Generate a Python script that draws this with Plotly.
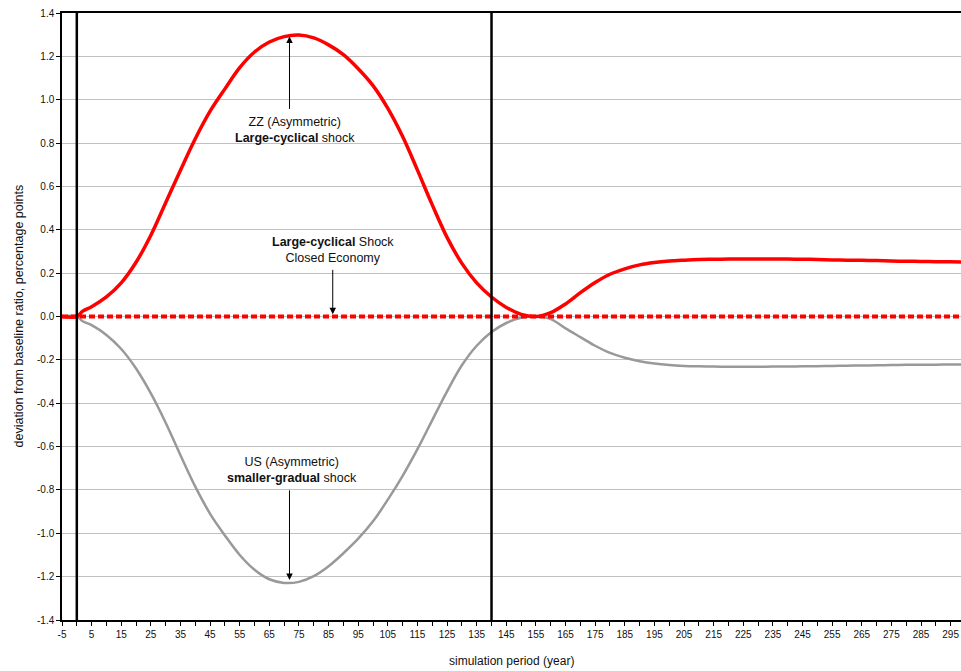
import plotly.graph_objects as go

# ---------------- data ----------------
periods = [-5, 0, 2, 5, 10, 15, 20, 25, 30, 35, 40, 45, 50, 55, 60, 65, 70, 75, 80, 85,
           90, 95, 100, 105, 110, 115, 120, 125, 130, 135, 140, 145, 150, 155, 160, 165,
           170, 175, 180, 185, 190, 195, 200, 205, 210, 215, 220, 225, 230, 235, 240,
           245, 250, 255, 260, 265, 270, 275, 280, 285, 290, 295, 300]

zz_large_cyclical = [0, 0, 0.025, 0.045, 0.09, 0.155, 0.25, 0.375, 0.525, 0.675, 0.82, 0.947,
                     1.05, 1.148, 1.22, 1.266, 1.291, 1.298, 1.285, 1.253, 1.208, 1.143,
                     1.065, 0.96, 0.83, 0.675, 0.515, 0.365, 0.245, 0.155, 0.09, 0.042,
                     0.01, 0.0, 0.018, 0.058, 0.11, 0.157, 0.195, 0.22, 0.238, 0.249,
                     0.256, 0.26, 0.263, 0.264, 0.265, 0.265, 0.265, 0.265, 0.265, 0.264,
                     0.263, 0.261, 0.26, 0.259, 0.258, 0.256, 0.255, 0.254, 0.253, 0.252,
                     0.251]

us_smaller_gradual = [0, 0, -0.022, -0.04, -0.085, -0.15, -0.24, -0.355, -0.49, -0.64, -0.785,
                      -0.91, -1.01, -1.1, -1.168, -1.212, -1.229, -1.224, -1.198, -1.152,
                      -1.092, -1.025, -0.945, -0.845, -0.735, -0.612, -0.478, -0.345, -0.225,
                      -0.135, -0.072, -0.03, -0.006, 0.0, -0.012, -0.055, -0.095, -0.135,
                      -0.168, -0.19, -0.206, -0.217, -0.224, -0.228, -0.23, -0.231, -0.232,
                      -0.232, -0.232, -0.231, -0.231, -0.23, -0.229, -0.228, -0.227, -0.226,
                      -0.225, -0.224, -0.223, -0.222, -0.222, -0.221, -0.221]

closed_economy = [0.0] * len(periods)

event_periods = [0, 140]

x_tick_values = list(range(-5, 300, 10))
x_tick_labels = [str(v) for v in x_tick_values]
y_tick_values = [round(-1.4 + 0.2 * i, 1) for i in range(15)]
y_tick_labels = ["%.1f" % v for v in y_tick_values]

FONT = "Liberation Sans, Arial, sans-serif"

fig = go.Figure()
fig.add_trace(go.Scatter(x=periods, y=us_smaller_gradual, mode="lines",
                         line=dict(color="#999999", width=2.5, shape="spline", smoothing=1.0),
                         name="US", showlegend=False))
fig.add_trace(go.Scatter(x=periods, y=zz_large_cyclical, mode="lines",
                         line=dict(color="#FF0000", width=3.5, shape="spline", smoothing=1.0),
                         name="ZZ", showlegend=False))
fig.add_trace(go.Scatter(x=periods, y=closed_economy, mode="lines",
                         line=dict(color="#FF0000", width=4, dash="6px,3px"),
                         name="Closed Economy", showlegend=False))

for p in event_periods:
    fig.add_shape(type="line", xref="x", yref="paper", x0=p, x1=p, y0=0, y1=1,
                  line=dict(color="black", width=2.5), layer="above")

anno_font = dict(family=FONT, size=12.5, color="#111111")
# text labels
fig.add_annotation(x=73.8, y=1.29, xref="x", yref="y",
                   text="ZZ (Asymmetric)<br><b>Large-cyclical</b> shock", showarrow=False,
                   yshift=-92.8, font=anno_font, align="center")
fig.add_annotation(x=86.4, y=0.0, xref="x", yref="y",
                   text="<b>Large-cyclical</b> Shock<br>Closed Economy", showarrow=False,
                   yshift=66.5, font=anno_font, align="center")
fig.add_annotation(x=72.5, y=-1.215, xref="x", yref="y",
                   text="US (Asymmetric)<br><b>smaller-gradual</b> shock", showarrow=False,
                   yshift=110, font=anno_font, align="center")
# arrows
fig.add_annotation(x=71.8, y=1.292, xref="x", yref="y", ax=0, ay=74, text="",
                   showarrow=True, arrowhead=2, arrowsize=1.3, arrowwidth=1, arrowcolor="black",
                   standoff=0, startstandoff=0)
fig.add_annotation(x=86.4, y=0.01, xref="x", yref="y", ax=0, ay=-46, text="",
                   showarrow=True, arrowhead=2, arrowsize=1.3, arrowwidth=1, arrowcolor="black",
                   standoff=0, startstandoff=0)
fig.add_annotation(x=71.8, y=-1.215, xref="x", yref="y", ax=0, ay=-91, text="",
                   showarrow=True, arrowhead=2, arrowsize=1.3, arrowwidth=1, arrowcolor="black",
                   standoff=0, startstandoff=0)

# axis titles
fig.add_annotation(x=0.5, y=0, xref="paper", yref="paper", yshift=-41, yanchor="middle",
                   text="simulation period (year)", showarrow=False,
                   font=dict(family=FONT, size=12, color="#111111"))
fig.add_annotation(x=0, y=0.5, xref="paper", yref="paper", xshift=-44, xanchor="center",
                   text="deviation from baseline ratio, percentage points", showarrow=False,
                   textangle=-90, font=dict(family=FONT, size=12.5, color="#111111"))

fig.update_xaxes(range=[-5, 298.5], tickmode="array", tickvals=x_tick_values,
                 ticktext=x_tick_labels, ticks="outside", ticklen=4, tickwidth=1,
                 tickcolor="black", showgrid=False, zeroline=False, showline=True,
                 linecolor="black", linewidth=1.5, mirror=True,
                 tickfont=dict(family=FONT, size=10, color="#111111"),
                 minor=dict(ticks="outside", dtick=5, tick0=0, ticklen=4, tickcolor="black",
                            showgrid=False))
fig.update_yaxes(range=[-1.4, 1.4], tickmode="array", tickvals=y_tick_values,
                 ticktext=y_tick_labels, ticks="outside", ticklen=4, tickwidth=1,
                 tickcolor="black", showgrid=True, gridcolor="#C0C0C0", gridwidth=1,
                 zeroline=False, showline=True, linecolor="black", linewidth=1.5,
                 tickfont=dict(family=FONT, size=10, color="#111111"))

fig.update_layout(width=961, height=671, margin=dict(l=62, r=0, t=13, b=51),
                  plot_bgcolor="white", paper_bgcolor="white", showlegend=False,
                  font=dict(family=FONT))

fig.write_html("out.html", config={"displayModeBar": False},
               post_script="document.body.style.margin='0';"
                           "document.documentElement.style.overflow='hidden';"
                           "document.body.style.overflow='hidden';")
